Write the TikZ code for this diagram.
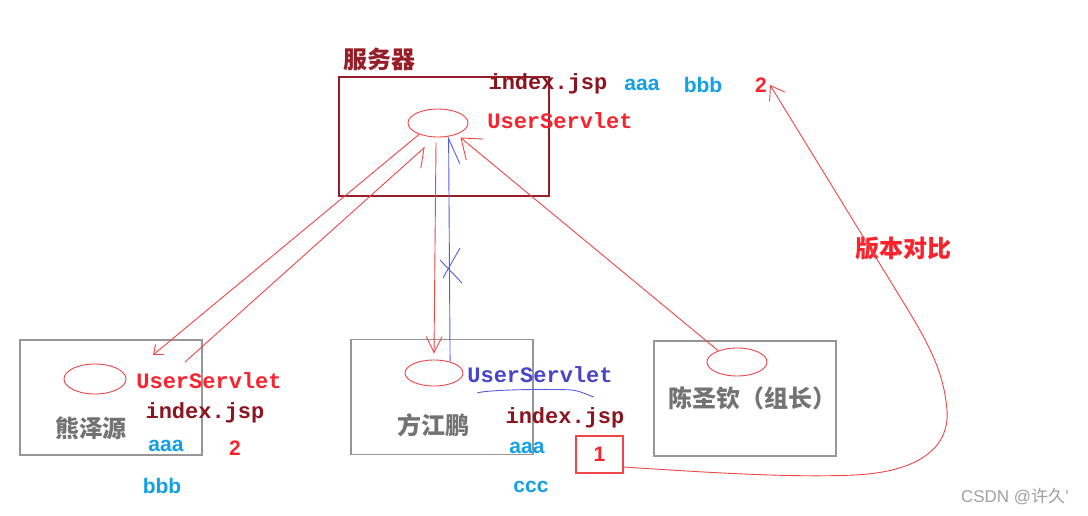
\documentclass[tikz,border=0pt]{standalone}
\usepackage{fontspec}
\setmainfont{Liberation Sans}
\newfontfamily\cjk{Noto Sans CJK SC}
\newfontfamily\monof{Liberation Mono}
\usetikzlibrary{shapes.geometric,arrows.meta}
\definecolor{dkred}{RGB}{140,20,30}
\definecolor{boxred}{RGB}{150,30,40}
\definecolor{txtred}{RGB}{250,35,45}
\definecolor{linered}{RGB}{240,70,70}
\definecolor{skyblue}{RGB}{20,160,230}
\definecolor{inkblue}{RGB}{70,70,205}
\definecolor{lineblue}{RGB}{85,95,220}
\definecolor{boxgray}{RGB}{150,150,150}
\definecolor{txtgray}{RGB}{115,115,115}
\definecolor{wmgray}{RGB}{160,160,160}
\tikzset{
  srvbox/.style={draw=boxred,line width=1.3pt,minimum width=210pt,minimum height=119pt,inner sep=0pt},
  cbox/.style={draw=boxgray,line width=1.3pt,minimum width=182pt,minimum height=115pt,inner sep=0pt},
  oval/.style={ellipse,draw=linered,line width=0.9pt,inner sep=0pt},
  mono/.style={inner sep=0pt,font=\monof\bfseries\fontsize{22}{22}\selectfont},
  latin/.style={inner sep=0pt,font=\bfseries\fontsize{21}{21}\selectfont},
  cjkbig/.style={inner sep=0pt,font=\cjk\bfseries\fontsize{24}{24}\selectfont},
  rline/.style={draw=linered,line width=0.9pt},
  bline/.style={draw=lineblue,line width=0.9pt},
}
\begin{document}
\begin{tikzpicture}[x=1pt,y=-1pt]
\path[use as bounding box,fill=white] (0,0) rectangle (1088,516);
% boxes
\node[srvbox] (b0) at (444,136.5) {};
\node[cbox] (b1) at (111,397.5) {};
\node[cbox] (b2) at (442,397) {};
\node[cbox] (b3) at (745,398.5) {};
% ovals
\node[oval,minimum width=60pt,minimum height=28pt] (srv) at (438,123) {};
\node[oval,minimum width=62pt,minimum height=30pt] (e1) at (95,379) {};
\node[oval,minimum width=58pt,minimum height=26pt] (e2) at (434,373) {};
\node[oval,minimum width=60pt,minimum height=28pt] (e3) at (737,362) {};
% server texts
\node[cjkbig,text=boxred] (title) at (379,59) {服务器};
\node[mono,text=dkred] (sidx) at (548,84) {index.jsp};
\node[latin,text=skyblue] (sa) at (642,85) {aaa};
\node[latin,text=skyblue] (sb) at (703,85) {bbb};
\node[latin,text=txtred,inner sep=1pt] (two) at (761,85) {2};
\node[mono,text=txtred] (sus) at (560,121) {UserServlet};
% client 1
\node[mono,text=txtred] (us1) at (209,381) {UserServlet};
\node[mono,text=dkred] (idx1) at (205,413) {index.jsp};
\node[latin,text=skyblue] (a1) at (166,446) {aaa};
\node[latin,text=txtred] (n1) at (235,448) {2};
\node[latin,text=skyblue] (bb1) at (162,486) {bbb};
\node[cjkbig,text=txtgray] (nm1) at (91,428) {熊泽源};
% client 2
\node[mono,text=inkblue] (us2) at (540,375) {UserServlet};
\node[mono,text=dkred] (idx2) at (565,418) {index.jsp};
\node[latin,text=skyblue] (a2) at (527,448) {aaa};
\node[latin,text=skyblue] (c2) at (531,487) {ccc};
\node[cjkbig,text=txtgray] (nm2) at (433,425) {方江鹏};
\node[draw=linered,line width=1.1pt,minimum width=47pt,minimum height=37pt,inner sep=0pt,
      font=\bfseries\fontsize{21}{21}\selectfont,text=txtred] (one) at (599.5,454.5) {1};
% client 3
\node[cjkbig,text=txtgray] (nm3) at (752,398) {陈圣钦（组长）};
% labels
\node[cjkbig,text=txtred] (cmp) at (903,249) {版本对比};
\node[inner sep=0pt,font=\fontsize{17}{17}\selectfont,text=wmgray] (wm) at (1015,497) {CSDN @\cjk 许久\rmfamily '};
% free ends
\coordinate (a1e) at (153,355);
\coordinate (a2s) at (185,362);
\coordinate (a2e) at (425,147);
% connectors
\draw[rline,-{Straight Barb[length=8pt,width=13pt]}] (srv.211) -- (a1e);
\draw[rline,-{Straight Barb[right,length=16pt,width=26pt]}] (a2s) -- (a2e);
\draw[rline,-{Straight Barb[length=16pt,width=16pt]}] ([xshift=-2pt,yshift=-5pt]srv.south) -- ([yshift=6pt]e2.north);
\draw[bline,-{Straight Barb[right,length=25pt,width=22pt]}] (e2.35) -- (srv.308);
\draw[rline,-{Straight Barb[length=18pt,width=27pt]}] (e3.149) -- ([shift={(4pt,-3pt)}]srv.328);
% cross on blue line
\draw[bline] (440,260) -- (462,283);
\draw[bline] (443,278) -- (460,248);
% underline under blue UserServlet
\draw[bline] (477,393) .. controls (490,389) and (560,389) .. (572,390) .. controls (580,391) and (588,395) .. (594,397);
% version compare curve
\draw[rline,-{Straight Barb[length=13pt,width=18pt]}] ([yshift=-12.5pt]one.east) .. controls (700,472) and (790,478) .. (855,475)
  .. controls (915,472) and (950,450) .. (947,410)
  .. controls (944,375) and (932,349) .. (905,305)
  -- ([xshift=2pt]two.east);
\end{tikzpicture}
\end{document}
